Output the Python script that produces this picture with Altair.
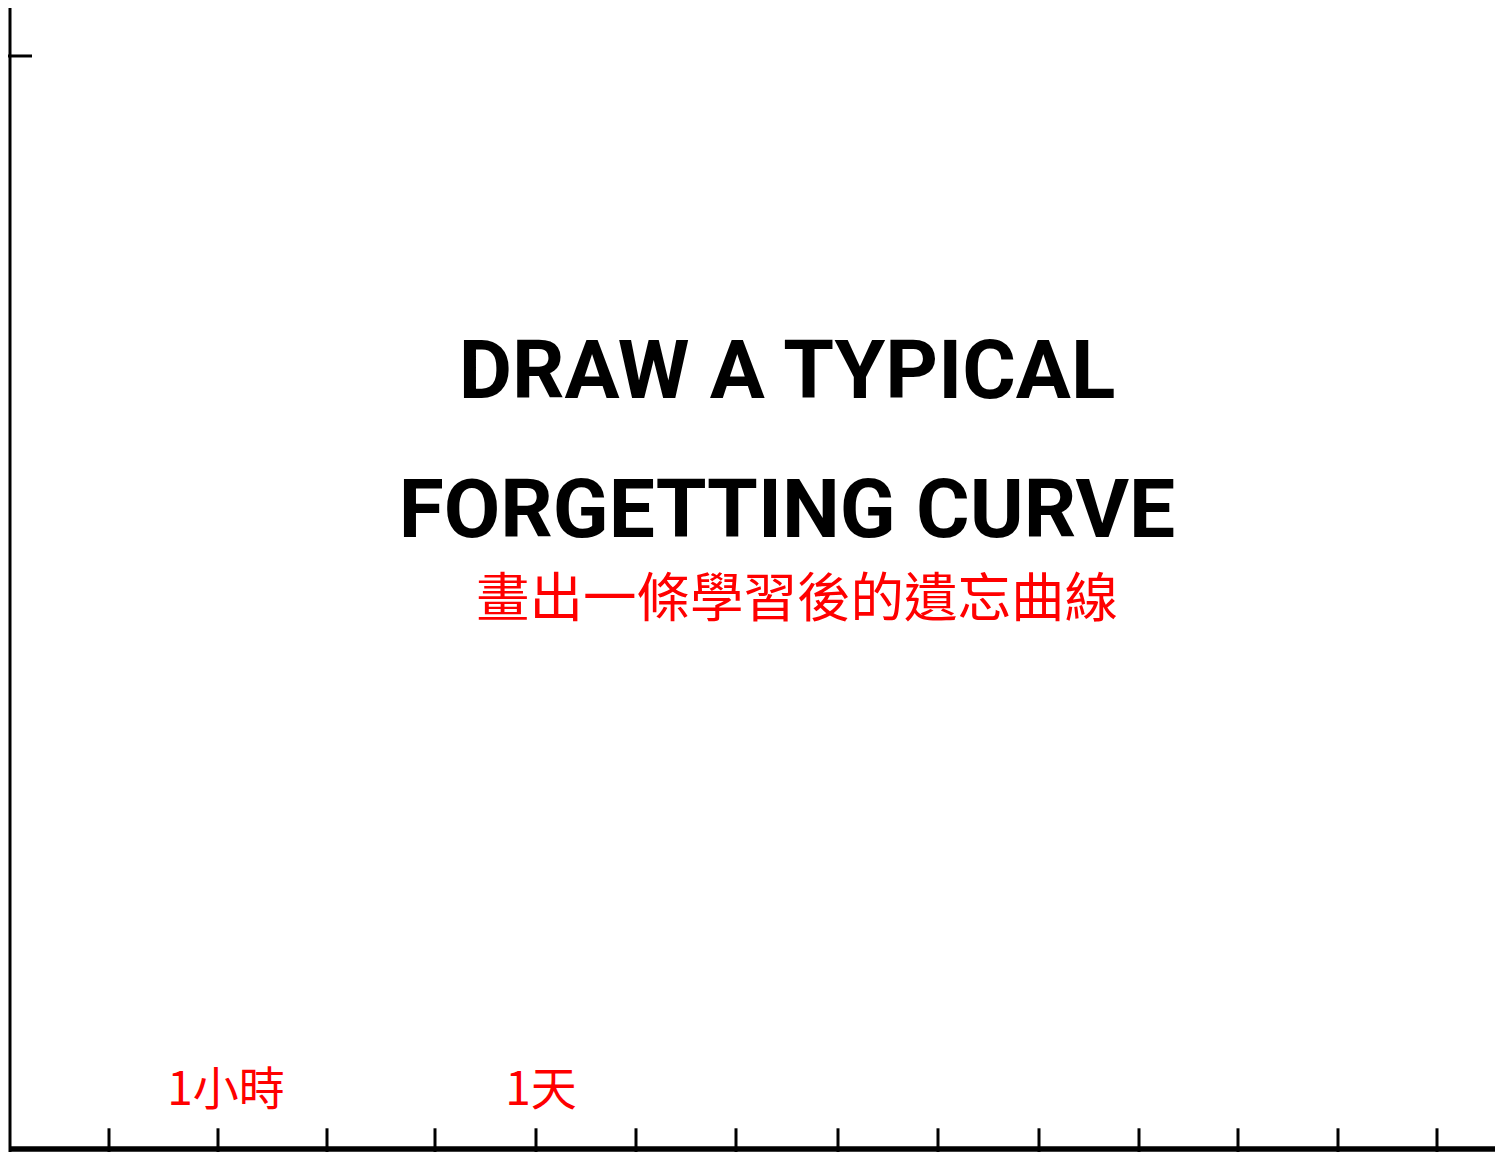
import altair as alt
import pandas as pd

# ---- data (x in horizontal units, y in retention units 0..100) ----
tick_x = [109, 218, 327, 435, 536, 636, 736, 838, 938, 1039, 1139, 1238, 1338, 1437]
label_text = ["1小時", "1天"]
label_x = [226, 541]
label_y = [5.3, 5.3]
title_lines = ["DRAW A TYPICAL", "FORGETTING CURVE"]
title_x = [787, 787]
title_y = [68.7, 56.0]
subtitle_text = ["畫出一條學習後的遺忘曲線"]
subtitle_x = [797]
subtitle_y = [50.1]
x_axis_span = [10, 1495]
y_axis_span = [-0.27, 104.4]
y_top_tick = 100
y_top_tick_span = [8, 32]
tick_span = [-0.27, 1.9]

X_DOMAIN = [8, 1495]
Y_DOMAIN = [-0.27, 104.39]
xs = alt.Scale(domain=X_DOMAIN, nice=False, zero=False)
ys = alt.Scale(domain=Y_DOMAIN, nice=False, zero=False)

# x axis line
xaxis_df = pd.DataFrame({"x": [x_axis_span[0]], "x2": [x_axis_span[1]], "y": [0]})
xaxis = alt.Chart(xaxis_df).mark_rule(color="black", strokeWidth=5.5).encode(
    x=alt.X("x:Q", scale=xs, axis=None),
    x2="x2:Q",
    y=alt.Y("y:Q", scale=ys, axis=None),
)

# y axis line
yaxis_df = pd.DataFrame({"x": [x_axis_span[0]], "y": [y_axis_span[0]], "y2": [y_axis_span[1]]})
yaxis = alt.Chart(yaxis_df).mark_rule(color="black", strokeWidth=3).encode(
    x=alt.X("x:Q", scale=xs, axis=None),
    y=alt.Y("y:Q", scale=ys, axis=None),
    y2="y2:Q",
)

# top tick on y axis
ytick_df = pd.DataFrame({"x": [y_top_tick_span[0]], "x2": [y_top_tick_span[1]], "y": [y_top_tick]})
ytick = alt.Chart(ytick_df).mark_rule(color="black", strokeWidth=3).encode(
    x=alt.X("x:Q", scale=xs, axis=None),
    x2="x2:Q",
    y=alt.Y("y:Q", scale=ys, axis=None),
)

# x ticks
ticks_df = pd.DataFrame({"x": tick_x, "y": [tick_span[0]] * len(tick_x), "y2": [tick_span[1]] * len(tick_x)})
ticks = alt.Chart(ticks_df).mark_rule(color="black", strokeWidth=3).encode(
    x=alt.X("x:Q", scale=xs, axis=None),
    y=alt.Y("y:Q", scale=ys, axis=None),
    y2="y2:Q",
)

# red time labels
lab_df = pd.DataFrame({"x": label_x, "y": label_y, "t": label_text})
labels = alt.Chart(lab_df).mark_text(
    color="#ff0000", fontSize=46, font="Noto Sans CJK TC", align="center", baseline="middle"
).encode(
    x=alt.X("x:Q", scale=xs, axis=None),
    y=alt.Y("y:Q", scale=ys, axis=None),
    text="t:N",
)

# big title
tit_df = pd.DataFrame({"x": title_x, "y": title_y, "t": title_lines})
titles = alt.Chart(tit_df).mark_text(
    color="black", fontSize=82, fontWeight="bold",
    font="Roboto", align="center", baseline="alphabetic"
).encode(
    x=alt.X("x:Q", scale=xs, axis=None),
    y=alt.Y("y:Q", scale=ys, axis=None),
    text="t:N",
)

# red Chinese subtitle
sub_df = pd.DataFrame({"x": subtitle_x, "y": subtitle_y, "t": subtitle_text})
subtitle = alt.Chart(sub_df).mark_text(
    color="#ff0000", fontSize=53.5, font="Noto Sans CJK TC", align="center", baseline="middle"
).encode(
    x=alt.X("x:Q", scale=xs, axis=None),
    y=alt.Y("y:Q", scale=ys, axis=None),
    text="t:N",
)

chart = alt.layer(xaxis, yaxis, ytick, ticks, labels, titles, subtitle).properties(
    width=1487, height=1144, padding=0,
    autosize=alt.AutoSizeParams(type="none"),
    background="white",
).configure_view(strokeWidth=0)

chart.save("out.html", embed_options={"renderer": "svg", "actions": False})
